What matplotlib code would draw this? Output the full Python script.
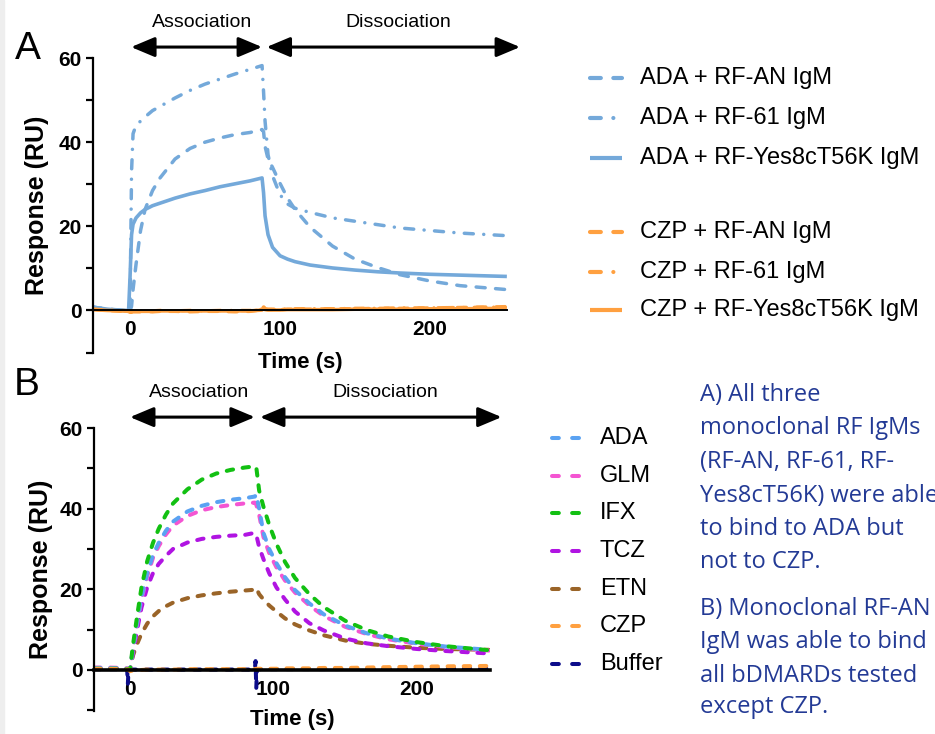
import matplotlib
matplotlib.use("Agg")
import matplotlib.pyplot as plt
from matplotlib.lines import Line2D
from matplotlib.patches import Rectangle
from matplotlib.ticker import MultipleLocator

plt.rcParams['font.family'] = ['Liberation Sans', 'DejaVu Sans']

# ---- panel A data: ADA / CZP with three RF IgMs ----
t_a = [-25, -15, -5, -1, 0, 1, 2, 4, 7, 10, 15, 20, 30, 40, 50, 60, 70, 80, 88, 89,
       90, 92, 95, 100, 105, 110, 120, 135, 150, 165, 180, 200, 220, 250]
ada_an = [0.8, 0.3, 0.1, 0.0, 0.0, 1, 5, 11, 19, 24, 28.5, 31.5, 36, 38.5, 40, 41, 41.8, 42.3, 43, 42.5,
          39, 36, 34, 30.2, 26.7, 24, 19.8, 15.3, 12.2, 10.2, 8.5, 7, 5.9, 5.0]
ada_61 = [0.8, 0.3, 0.1, 0.0, 0.0, 33, 42, 44, 45, 46, 47.5, 48.5, 50.5, 52.3, 53.8, 55, 56.2, 57.3, 58.2, 52,
          45, 37, 32, 27.5, 25.3, 24.3, 23.3, 22, 21.2, 20.4, 19.6, 19, 18.4, 17.8]
ada_yes = [0.8, 0.3, 0.0, -0.2, 8, 18, 20.5, 22, 23.2, 24, 24.9, 25.5, 26.7, 27.7, 28.5, 29.4, 30.1, 30.8, 31.5, 28,
           22.5, 18, 15, 13, 12.2, 11.6, 10.8, 10.1, 9.6, 9.2, 8.9, 8.6, 8.4, 8.1]
czp_an = [0.3, 0.0, -0.2, -0.3, -0.5, -0.4, -0.3, -0.3, -0.3, -0.2, -0.3, -0.2, -0.2, -0.3, -0.2, -0.2, -0.3, -0.2, 0.2, 1.0,
          0.3, 0.2, 0.2, 0.2, 0.3, 0.3, 0.3, 0.4, 0.4, 0.5, 0.5, 0.6, 0.7, 0.9]
czp_61 = [0.3, 0.1, 0.0, -0.1, -0.3, -0.2, -0.1, -0.2, -0.1, -0.1, -0.1, 0.0, -0.1, 0.0, -0.1, 0.0, 0.0, 0.0, 0.3, 1.4,
          0.4, 0.3, 0.3, 0.3, 0.3, 0.4, 0.4, 0.4, 0.5, 0.5, 0.6, 0.6, 0.7, 0.8]
czp_yes = [0.2, 0.0, -0.1, -0.2, -0.4, -0.3, -0.2, -0.2, -0.2, -0.2, -0.2, -0.1, -0.1, -0.1, -0.1, -0.1, -0.1, -0.1, 0.1, 0.8,
           0.2, 0.1, 0.1, 0.1, 0.2, 0.2, 0.2, 0.2, 0.3, 0.3, 0.3, 0.4, 0.4, 0.5]
labels_a = ['ADA + RF-AN IgM', 'ADA + RF-61 IgM', 'ADA + RF-Yes8cT56K IgM',
            'CZP + RF-AN IgM', 'CZP + RF-61 IgM', 'CZP + RF-Yes8cT56K IgM']

# ---- panel B data: RF-AN IgM against the bDMARDs ----
t_b = [-25, -15, -5, -1, 0, 2, 5, 8, 12, 16, 20, 25, 30, 40, 50, 60, 70, 80, 87, 88,
       90, 93, 97, 102, 108, 115, 125, 135, 150, 165, 180, 200, 220, 250]
ada_b = [0.5, 0.5, 0.4, 0.3, 0.0, 5, 12, 18, 24, 28.5, 31.5, 34.5, 36.8, 39.3, 40.7, 41.6, 42.2, 42.6, 43, 43.5,
         40, 34, 30, 26.5, 23, 19.8, 16.5, 13.8, 11, 9.1, 7.8, 6.6, 5.8, 5.0]
glm_b = [0.6, 0.6, 0.5, 0.4, 0.0, 5, 11.5, 17.5, 23.3, 27.8, 30.7, 33.6, 35.8, 38.2, 39.6, 40.4, 40.9, 41.3, 41.5, 41,
         38.5, 33, 29, 25.5, 22.2, 19.2, 16, 13.4, 10.7, 8.9, 7.6, 6.5, 5.7, 4.8]
ifx_b = [0.3, 0.3, 0.3, 0.2, 0.0, 6, 13.5, 20.5, 27, 31.5, 35, 38.5, 41.3, 44.8, 47.2, 48.7, 49.6, 50.2, 50.5, 50.3,
         44.5, 40.5, 36, 31.3, 26.8, 22.8, 18.8, 15.6, 12.2, 9.9, 8.3, 6.9, 5.9, 4.9]
tcz_b = [0.3, 0.3, 0.3, 0.2, 0.0, 4, 10, 15.5, 20.5, 24, 26.3, 28.3, 30, 31.6, 32.5, 33, 33.3, 33.5, 34, 33.5,
         30.5, 27.5, 24, 20.5, 17.5, 14.5, 11.6, 9.8, 7.8, 6.6, 5.9, 5.2, 4.7, 4.1]
etn_b = [0.3, 0.3, 0.3, 0.2, 0.0, 3.5, 6.5, 9, 11.5, 13.3, 14.6, 15.8, 16.7, 17.8, 18.5, 19, 19.4, 19.7, 19.9, 20.3,
         18.8, 17.5, 16, 14.5, 12.8, 11.3, 9.8, 8.6, 7.3, 6.5, 6, 5.5, 5.2, 5.0]
czp_b = [0.3, 0.3, 0.2, 0.1, -0.3, -0.1, 0.0, 0.0, 0.1, 0.1, 0.1, 0.1, 0.1, 0.2, 0.2, 0.2, 0.2, 0.2, 0.2, 0.3,
         0.3, 0.3, 0.3, 0.3, 0.4, 0.4, 0.4, 0.5, 0.5, 0.6, 0.7, 0.8, 0.9, 1.0]
t_buf = [-25, -2, -1.5, -1, 0, 87, 87.5, 88, 88.5, 89, 250]
buf_b = [0.2, 0.2, -3.5, 0.3, 0.1, 0.1, 2.2, -4.5, 0.2, 0.2, 0.3]
labels_b = ['ADA', 'GLM', 'IFX', 'TCZ', 'ETN', 'CZP', 'Buffer']

note_a = ['A) All three', 'monoclonal RF IgMs', '(RF-AN, RF-61, RF-',
          'Yes8cT56K) were able', 'to bind to ADA but', 'not to CZP.']
note_b = ['B) Monoclonal RF-AN', 'IgM was able to bind', 'all bDMARDs tested', 'except CZP.']

# colours / line styles
blue_a, orange = '#74a9da', '#ffa040'
cols_b = ['#5aa2f2', '#f455d2', '#12c012', '#b014e2', '#9a6428', '#ffa040', '#0c0c8a']
dash_a = (0, (2.6, 3.0))
dashdot_a = (0, (2.6, 3.0, 0.01, 3.0))
dash_b = (0, (1.6, 2.4))

W, H = 935, 734
fig = plt.figure(figsize=(W / 100, H / 100), dpi=100)
fig.patches.append(Rectangle((0, 0), 4 / W, 1, transform=fig.transFigure, color='#eeeeee', zorder=0))


def fx(x):
    return x / W


def fy(y):
    return 1 - y / H


def style_axes(ax, xlim, xlw):
    ax.set_xlim(*xlim)
    ax.set_ylim(-10.2, 60)
    ax.patch.set_alpha(0)
    for s in ['top', 'right']:
        ax.spines[s].set_visible(False)
    ax.spines['bottom'].set_position(('data', 0))
    ax.spines['bottom'].set_linewidth(xlw)
    ax.spines['left'].set_linewidth(1.6)
    ax.set_xticks([0, 100, 200])
    ax.yaxis.set_major_locator(MultipleLocator(20))
    ax.yaxis.set_minor_locator(MultipleLocator(10))
    ax.tick_params(axis='x', length=0, pad=7, labelsize=15)
    ax.tick_params(axis='y', which='both', length=5, width=1.6, pad=3, labelsize=15)
    for lab in ax.get_xticklabels() + ax.get_yticklabels():
        lab.set_fontweight('bold')
    ax.set_xlabel('Time (s)', fontsize=16, fontweight='bold')
    ax.xaxis.label.set_va('center')
    ax.xaxis.set_label_coords(0.5, -0.03)
    ax.set_ylabel('Response (RU)', fontsize=18, fontweight='bold')
    ax.yaxis.label.set_va('center')
    ax.yaxis.set_label_coords(-0.135, 0.5)


def phase_arrows(ax, spans, ya, yt):
    for (x0, x1, xt, name) in spans:
        ax.annotate('', xy=(x1, ya), xytext=(x0, ya), annotation_clip=False,
                    arrowprops=dict(arrowstyle='<|-|>,head_length=1.0,head_width=0.42',
                                    mutation_scale=14.4, lw=2.2, color='black',
                                    shrinkA=0, shrinkB=0))
        ax.text(xt, yt, name, ha='center', va='center', fontsize=14, clip_on=False)


def key(x0, x1, xt, y, color, ls, lw, label):
    fig.add_artist(Line2D([fx(x0), fx(x1)], [fy(y), fy(y)], transform=fig.transFigure,
                          color=color, ls=ls, lw=lw, dash_capstyle='round', solid_capstyle='butt'))
    fig.text(fx(xt), fy(y), label, va='center', ha='left', fontsize=17)


# ---- panel A ----
ax_a = fig.add_axes([fx(93), fy(353.4), 414 / W, 295.4 / H])
style_axes(ax_a, (-24.7, 251.3), 1.4)
ax_a.plot(t_a, ada_an, color=blue_a, lw=2.5, ls=dash_a, dash_capstyle='round')
ax_a.plot(t_a, ada_61, color=blue_a, lw=2.5, ls=dashdot_a, dash_capstyle='round')
ax_a.plot(t_a, ada_yes, color=blue_a, lw=2.6)
ax_a.plot(t_a, czp_an, color=orange, lw=2.5, ls=dash_a, dash_capstyle='round')
ax_a.plot(t_a, czp_61, color=orange, lw=2.5, ls=dashdot_a, dash_capstyle='round')
ax_a.plot(t_a, czp_yes, color=orange, lw=2.6)
phase_arrows(ax_a, [(0.7, 88, 48.3, 'Association'), (91, 260, 178.7, 'Dissociation')], 62.6, 68.5)
fig.text(fx(27.5), fy(49), 'A', ha='center', va='center', fontsize=28)

styles_a = [dash_a, dashdot_a, '-'] * 2
colors_a = [blue_a] * 3 + [orange] * 3
rows_a = [78, 118, 158, 232, 272, 310]
for lab, c, ls, y in zip(labels_a, colors_a, styles_a, rows_a):
    key(590, 622, 640, y, c, ls, 3, lab)

# ---- panel B ----
ax_b = fig.add_axes([fx(94), fy(711.1), 396 / W, 283.1 / H])
style_axes(ax_b, (-25.1, 250.9), 2.6)
ax_b.plot(t_buf, buf_b, color=cols_b[6], lw=2.9, ls=dash_b, dash_capstyle='round')
for ys, c in zip([etn_b, tcz_b, glm_b, ada_b, ifx_b, czp_b], [cols_b[4], cols_b[3], cols_b[1], cols_b[0], cols_b[2], cols_b[5]]):
    ax_b.plot(t_b, ys, color=c, lw=2.9, ls=dash_b, dash_capstyle='round')
phase_arrows(ax_b, [(0, 87, 48, 'Association'), (90.6, 259, 177.7, 'Dissociation')], 62.7, 68.9)
fig.text(fx(27), fy(385), 'B', ha='center', va='center', fontsize=28)

rows_b = [438, 476, 513, 551, 589, 626, 664]
for lab, c, y in zip(labels_b, cols_b, rows_b):
    key(552, 582, 600, y, c, (0, (1.7, 3.3)), 2.9, lab)

# ---- caption text on the right ----
base_a = [401, 434, 468, 502, 535, 568]
base_b = [615, 648, 682, 713]
for line, y in zip(note_a + note_b, base_a + base_b):
    fig.text(fx(700), fy(y), line, va='baseline', ha='left', fontsize=17,
             color='#233a95', family=['Open Sans', 'DejaVu Sans'])

fig.savefig('out.png', dpi=100)
